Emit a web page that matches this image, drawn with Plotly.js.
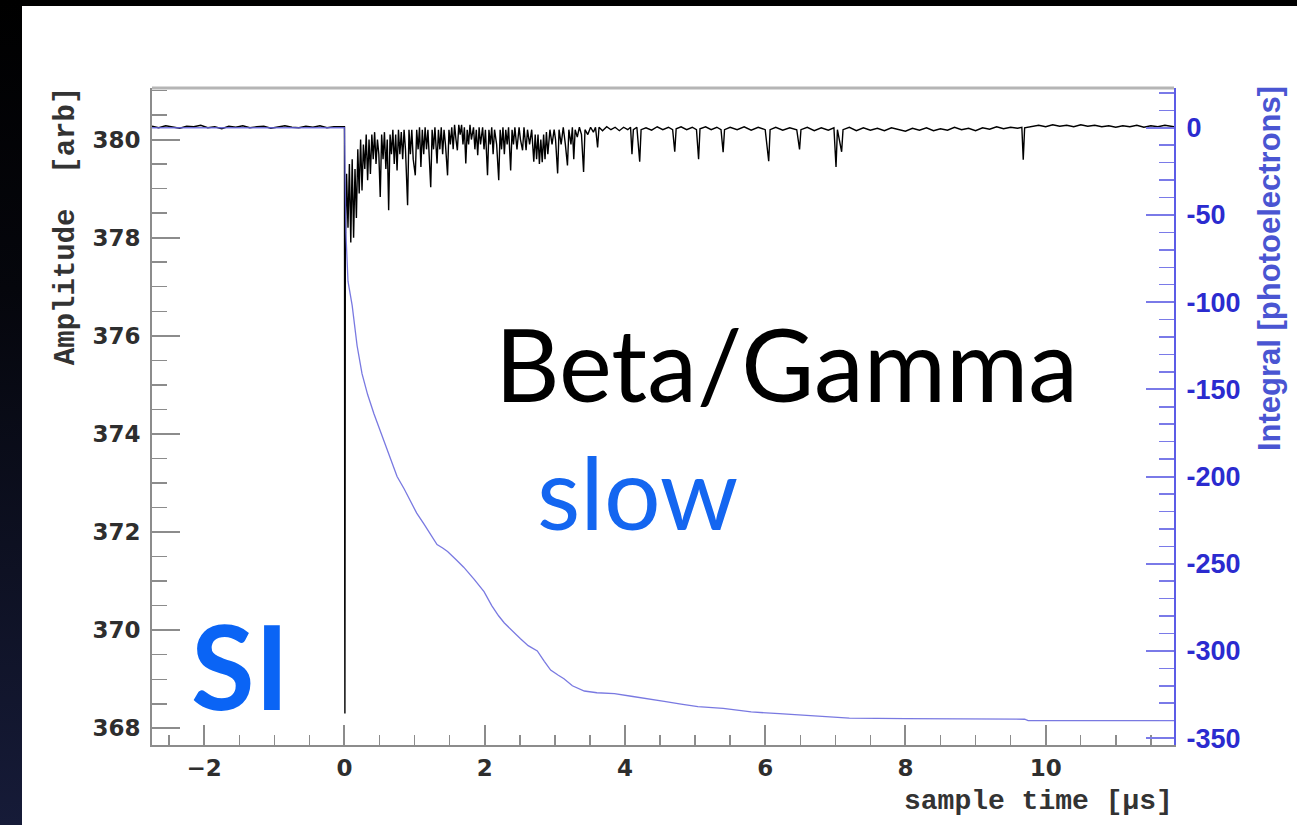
<!DOCTYPE html>
<html>
<head>
<meta charset="utf-8">
<script src="https://cdn.plot.ly/plotly-3.0.1.min.js"></script>
<style>
  html, body { margin: 0; padding: 0; width: 1297px; height: 825px; overflow: hidden;
    background: linear-gradient(to bottom, #000 0%, #05060c 35%, #161b38 100%); }
  #chart { position: absolute; left: 22px; top: 6px; width: 1275px; height: 819px; background: #fff; }
</style>
</head>
<body>
<div id="chart"></div>
<script>
// ---------- Amplitude waveform (left axis, arb) ----------
const preTriggerTime = [-2.745,-2.65,-2.55,-2.45,-2.35,-2.25,-2.15,-2.05,-1.95,-1.85,
  -1.75,-1.65,-1.55,-1.45,-1.35,-1.25,-1.15,-1.05,-0.95,-0.85,
  -0.75,-0.65,-0.55,-0.45,-0.35,-0.25,-0.15,-0.05,0];
const preTriggerAmp = [380.27,380.24,380.28,380.25,380.23,380.27,380.26,380.29,380.24,380.26,
  380.22,380.27,380.25,380.28,380.24,380.26,380.27,380.23,380.26,380.28,
  380.25,380.24,380.27,380.25,380.28,380.24,380.26,380.27,380.26];

const triggerTime = [0.004, 0.006, 0.012];
const triggerAmp  = [370.4, 368.3, 377.9];

const pulseTime = [0.03,0.05,0.07,0.09,0.11,0.13,0.15,0.17,0.19,0.21,
  0.23,0.25,0.27,0.29,0.31,0.33,0.35,0.37,0.39,0.41,
  0.43,0.45,0.47,0.49,0.51,0.53,0.55,0.57,0.59,0.61,
  0.63,0.65,0.67,0.69,0.71,0.73,0.75,0.77,0.79,0.81,
  0.83,0.85,0.87,0.90,0.92,0.94,0.96,0.98,1.01,1.03,
  1.05,1.07,1.09,1.11,1.13,1.15,1.17,1.19,1.21,1.23,
  1.25,1.27,1.29,1.32,1.34,1.36,1.38,1.40,1.42,1.44,
  1.47,1.49,1.51,1.53,1.55,1.57,1.59,1.61,1.63,1.65,
  1.67,1.69,1.71,1.73,1.75,1.77,1.79,1.81,1.84,1.86,
  1.88,1.90,1.92,1.94,1.97,1.99,2.01,2.04,2.06,2.08,
  2.10,2.12,2.14,2.17,2.20,2.22,2.24,2.26,2.28,2.30,
  2.32,2.34,2.37,2.39,2.41,2.43,2.46,2.49,2.51,2.54,
  2.56,2.59,2.61,2.64,2.67,2.70,2.72,2.74,2.76,2.78,
  2.80,2.82,2.84,2.86,2.88,2.90,2.93,2.96,2.99,3.01,
  3.04,3.06,3.09,3.12,3.15,3.18,3.20,3.23,3.25,3.27,
  3.29,3.32,3.35,3.38,3.41,3.43,3.47,3.51,3.55,3.58,
  3.61,3.63];
const pulseAmp = [379.3,378.2,379.5,377.9,379.6,378.0,379.4,378.4,379.8,378.9,
  380.0,378.96,379.9,379.4,380.1,379.17,380.0,379.3,380.1,379.6,
  380.15,379.5,380.0,379.7,378.83,380.1,379.6,380.15,379.4,380.0,
  378.56,380.1,379.7,380.2,379.5,380.1,379.37,380.2,379.7,380.15,
  379.6,380.2,379.8,378.66,380.2,379.7,380.2,379.6,379.27,380.2,
  379.8,380.25,379.44,380.2,379.7,380.25,379.8,380.2,379.6,379.03,
  380.2,379.8,380.25,379.51,380.2,379.8,380.25,379.7,380.2,379.9,
  379.27,380.2,379.9,380.25,379.8,380.3,380.0,379.78,380.3,380.1,
  380.3,379.9,380.25,379.51,380.2,379.9,380.3,380.0,380.25,379.8,
  380.2,379.68,380.25,379.9,380.25,379.8,380.2,379.27,380.2,379.9,
  380.25,379.7,380.2,379.9,379.17,380.2,379.8,380.25,379.7,380.2,
  379.9,380.25,379.37,380.2,379.9,380.25,379.8,380.25,380.0,379.78,
  380.25,379.78,380.2,379.9,380.2,379.55,380.1,379.6,380.1,379.5,
  380.0,379.54,380.1,379.6,380.15,379.7,380.2,379.9,380.2,380.0,
  379.31,380.2,379.9,380.25,379.9,379.47,380.2,379.9,380.25,379.6,
  380.2,380.05,380.25,380.1,379.34,380.2,380.1,380.25,380.15,380.25,
  379.84,380.25];

const tailTime = [3.68,3.74,3.80,3.86,3.92,3.98,4.04,4.08,4.10,4.12,
  4.17,4.21,4.23,4.30,4.38,4.46,4.54,4.62,4.68,4.71,
  4.73,4.80,4.88,4.96,5.02,5.05,5.07,5.15,5.23,5.31,
  5.37,5.40,5.42,5.50,5.60,5.70,5.80,5.90,6.00,6.05,
  6.07,6.15,6.25,6.35,6.45,6.49,6.51,6.60,6.70,6.80,
  6.90,6.98,7.01,7.03,7.09,7.11,7.20,7.30,7.40,7.50,
  7.60,7.70,7.80,7.90,8.00,8.10,8.20,8.30,8.40,8.50,
  8.60,8.70,8.80,8.90,9.00,9.10,9.20,9.30,9.40,9.50,
  9.60,9.66,9.68,9.70,9.80,9.90,10.00,10.10,10.20,10.30,
  10.40,10.50,10.60,10.70,10.80,10.90,11.00,11.10,11.20,11.30,
  11.40,11.50,11.60,11.70,11.83];
const tailAmp = [380.18,380.26,380.2,380.25,380.18,380.25,380.2,380.25,379.7,380.2,
  380.25,379.55,380.2,380.24,380.19,380.26,380.2,380.25,380.2,379.75,
  380.22,380.26,380.2,380.25,380.2,379.6,380.22,380.26,380.2,380.25,
  380.2,379.74,380.2,380.25,380.2,380.26,380.19,380.25,380.2,379.56,
  380.2,380.25,380.19,380.24,380.2,379.8,380.2,380.25,380.18,380.24,
  380.19,380.24,379.44,380.2,379.75,380.2,380.25,380.18,380.24,380.19,
  380.23,380.18,380.24,380.2,380.17,380.23,380.19,380.24,380.18,380.22,
  380.19,380.25,380.2,380.23,380.18,380.24,380.21,380.26,380.22,380.25,
  380.23,380.25,379.59,380.24,380.27,380.29,380.26,380.3,380.27,380.29,
  380.26,380.3,380.27,380.29,380.26,380.28,380.25,380.28,380.26,380.29,
  380.25,380.28,380.26,380.29,380.26];

// ---------- Integral (right axis, photoelectrons) ----------
const integralTime = [-2.745,0,0.02,0.05,0.11,0.18,0.25,0.33,0.42,0.5,
  0.59,0.67,0.75,0.85,0.94,1.03,1.13,1.22,1.32,1.4,
  1.47,1.6,1.7,1.85,1.99,2.1,2.2,2.28,2.4,2.51,
  2.62,2.75,2.85,2.94,3.05,3.13,3.25,3.42,3.6,3.85,
  4.09,4.3,4.56,4.8,5.04,5.4,5.8,6.2,6.6,6.95,
  7.2,8.0,9.0,9.7,9.75,11.83];
const integralPE = [0,0,-60,-88,-102,-125,-141,-153,-164,-173,
  -182,-191,-200,-207,-214,-221,-227,-233,-239,-241,
  -243,-248,-252,-259,-266,-274,-280,-284,-289,-293,
  -297,-300,-306,-311,-314,-316,-320,-323,-324,-324.5,
  -326,-327.5,-329,-330.5,-332,-333,-335,-336,-337,-338,
  -338.5,-338.8,-339,-339.2,-340,-340];

// ---------- Axis ticks ----------
const ampTickVals = [368,370,372,374,376,378,380];
const ampTickText = ['368','370','372','374','376','378','380'];
const peTickVals = [0,-50,-100,-150,-200,-250,-300,-350];
const peTickText = ['0','-50','-100','-150','-200','-250','-300','-350'];
const timeTickVals = [-2,0,2,4,6,8,10];
const timeTickText = ['\u22122','0','2','4','6','8','10'];

const waveTime = preTriggerTime.concat(triggerTime, pulseTime, tailTime);
const waveAmp = preTriggerAmp.concat(triggerAmp, pulseAmp, tailAmp);

const grey = '#8c8c8c';
const blueAxis = '#5c5ce6';

const traces = [
  { x: waveTime, y: waveAmp, type: 'scatter', mode: 'lines', xaxis: 'x', yaxis: 'y',
    line: { color: '#000', width: 1.4 }, hoverinfo: 'skip', showlegend: false },
  { x: integralTime, y: integralPE, type: 'scatter', mode: 'lines', xaxis: 'x', yaxis: 'y2',
    line: { color: '#6161dc', width: 1.3 }, opacity: 0.85, hoverinfo: 'skip', showlegend: false }
];

const layout = {
  width: 1275, height: 819,
  margin: { l: 130, r: 123, t: 82, b: 80, pad: 0 },
  paper_bgcolor: '#ffffff', plot_bgcolor: '#ffffff',
  showlegend: false,
  xaxis: {
    range: [-2.745, 11.83], showgrid: false, zeroline: false,
    showline: true, linecolor: grey, linewidth: 2,
    ticks: 'inside', ticklen: 20, tickwidth: 2, tickcolor: grey,
    tickmode: 'array', tickvals: timeTickVals, ticktext: timeTickText,
    minor: { tickmode: 'linear', tick0: 0, dtick: 0.5, ticks: 'inside', ticklen: 10, tickwidth: 1.5, tickcolor: grey, showgrid: false },
    tickfont: { family: 'DejaVu Sans', size: 23, weight: 'bold', color: '#2e2e2e' },
    ticklabelstandoff: 1
  },
  yaxis: {
    range: [367.66, 381.05], showgrid: false, zeroline: false,
    showline: true, linecolor: grey, linewidth: 2,
    ticks: 'inside', ticklen: 28, tickwidth: 2, tickcolor: grey,
    tickmode: 'array', tickvals: ampTickVals, ticktext: ampTickText,
    minor: { tickmode: 'linear', tick0: 368, dtick: 0.5, ticks: 'inside', ticklen: 15, tickwidth: 1.5, tickcolor: grey, showgrid: false },
    tickfont: { family: 'DejaVu Sans', size: 23, weight: 'bold', color: '#2e2e2e' },
    ticklabelstandoff: 5
  },
  yaxis2: {
    overlaying: 'y', side: 'right', anchor: 'x',
    range: [-353.96, 22.8], showgrid: false, zeroline: false,
    showline: true, linecolor: blueAxis, linewidth: 2,
    ticks: 'inside', ticklen: 28, tickwidth: 2, tickcolor: '#7a7ae8',
    tickmode: 'array', tickvals: peTickVals, ticktext: peTickText,
    minor: { tickmode: 'linear', tick0: 0, dtick: 10, ticks: 'inside', ticklen: 15, tickwidth: 1.5, tickcolor: '#7a7ae8', showgrid: false },
    tickfont: { family: 'Liberation Sans', size: 27, weight: 'bold', color: '#2b2bcf' },
    ticklabelstandoff: 5
  },
  shapes: [
    { type: 'line', xref: 'paper', yref: 'paper', x0: 0, x1: 1, y0: 1, y1: 1,
      line: { color: '#b5b5b5', width: 3 } }
  ],
  annotations: [
    { text: 'Amplitude  [arb]', xref: 'paper', yref: 'paper', x: -0.083, y: 0.79,
      textangle: -90, showarrow: false, xanchor: 'center', yanchor: 'middle',
      font: { family: 'Liberation Mono', size: 29, weight: 'bold', color: '#333' } },
    { text: 'Integral [photoelectrons]', xref: 'paper', yref: 'paper', x: 1.093, y: 0.7245,
      textangle: -90, showarrow: false, xanchor: 'center', yanchor: 'middle',
      font: { family: 'Liberation Sans', size: 31, weight: 'bold', color: '#4a55d2' } },
    { text: 'sample time [\u00b5s]', xref: 'paper', yref: 'paper', x: 1.001, y: -0.086,
      showarrow: false, xanchor: 'right', yanchor: 'middle',
      font: { family: 'Liberation Mono', size: 28, weight: 'bold', color: '#333' } },
    { text: 'Beta/Gamma', xref: 'paper', yref: 'paper', x: 0.6204, y: 0.581,
      showarrow: false, xanchor: 'center', yanchor: 'middle',
      font: { family: 'Lato', size: 100, color: '#000' } },
    { text: 'slow', xref: 'paper', yref: 'paper', x: 0.4755, y: 0.387,
      showarrow: false, xanchor: 'center', yanchor: 'middle',
      font: { family: 'Lato', size: 100, color: '#1466f0' } },
    { text: 'SI', xref: 'paper', yref: 'paper', x: 0.086, y: 0.121,
      showarrow: false, xanchor: 'center', yanchor: 'middle',
      font: { family: 'Lato', size: 116, weight: 'bold', color: '#0a64f5' } }
  ]
};

Plotly.newPlot('chart', traces, layout, { staticPlot: true, displayModeBar: false });
</script>
</body>
</html>
